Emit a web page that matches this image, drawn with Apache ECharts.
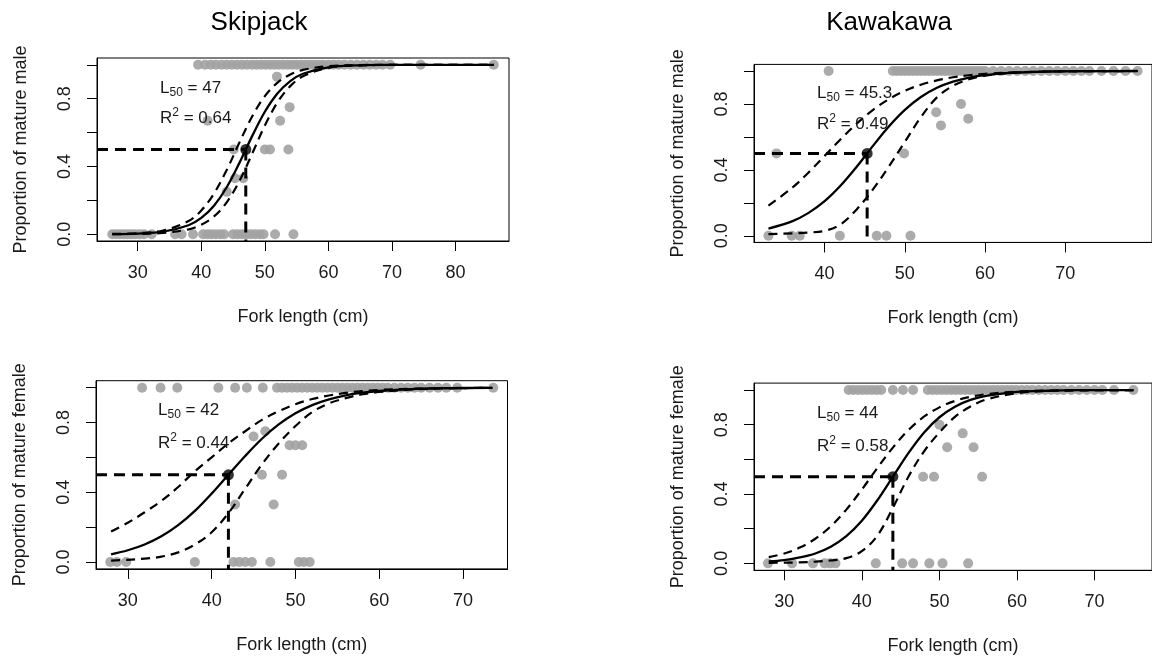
<!DOCTYPE html>
<html>
<head>
<meta charset="utf-8">
<style>
  html, body { margin: 0; padding: 0; background: #fff; }
  #chart { width: 1152px; height: 660px; }
</style>
<script src="https://cdn.jsdelivr.net/npm/echarts@6/dist/echarts.min.js"></script>
</head>
<body>
<div id="chart"></div>
<script>
// ---- Species headings and axis titles ----
const speciesTitles = ['Skipjack', 'Kawakawa'];
const xTitle = 'Fork length (cm)';
const yTitleMale = 'Proportion of mature male';
const yTitleFemale = 'Proportion of mature female';

// ---- Tick values ----
const yTicks = [0, 0.2, 0.4, 0.6, 0.8, 1.0];
const yTickLabels = [0, 0.4, 0.8];
const xTicksSkjMale = [30, 40, 50, 60, 70, 80];
const xTicksKawMale = [40, 50, 60, 70];
const xTicksSkjFemale = [30, 40, 50, 60, 70];
const xTicksKawFemale = [30, 40, 50, 60, 70];

// ---- Fitted L50 and R² per panel ----
const l50Values = [47, 45.3, 42, 44];
const r2Values = [0.64, 0.49, 0.44, 0.58];

// ---- Skipjack, male: observed proportions (fork length, proportion) ----
const skjMaleMature = [39.5, 40.6, 41.5, 42.3, 43.2, 44, 44.8, 45.6, 46.4, 47.2, 48, 48.7, 49.4, 50.1, 50.8,
  51.5, 52.2, 52.9, 53.6, 54.3, 55, 55.7, 56.4, 57.1, 57.8, 58.5, 59.2, 60, 60.8, 61.6, 62.5, 63.5, 64.5,
  65.5, 66.5, 67.5, 68.5, 69.7, 74.5, 86];
const skjMaleImmature = [26, 26.6, 27.2, 27.8, 28.4, 29, 29.6, 30.3, 31, 32.2, 35.9, 36.9, 38.7, 40.3, 41,
  41.6, 42.3, 43, 43.6, 45, 45.7, 46.4, 47.1, 47.8, 48.5, 49.2, 49.8, 51.6, 54.5];
const skjMalePartial = [[51.9, 0.93], [53.9, 0.75], [52.4, 0.67], [41, 0.67], [45.1, 0.5], [50, 0.5],
  [50.8, 0.5], [53.7, 0.5], [45.3, 0.33], [46.6, 0.33], [44, 0.25]];

// ---- Kawakawa, male ----
const kawMaleMature = [40.5, 48.5, 49, 49.5, 50, 50.5, 51, 51.5, 52, 52.5, 53, 53.5, 54, 54.5, 55, 55.5, 56,
  56.5, 57, 57.5, 58, 58.5, 59, 59.5, 60, 61, 62, 63, 64, 65, 66, 67, 68, 69, 70, 71, 72, 73, 74.5, 76,
  77.5, 79];
const kawMaleImmature = [33, 35.9, 36.9, 41.9, 46.5, 47.7, 50.7];
const kawMalePartial = [[34, 0.5], [49.9, 0.5], [53.9, 0.75], [54.5, 0.67], [57, 0.8], [57.9, 0.71]];

// ---- Skipjack, female ----
const skjFemaleMature = [31.7, 33.9, 35.9, 40.8, 42.8, 44.2, 46.1, 47.8, 48.4, 49, 49.6, 50.2, 50.8, 51.4, 52,
  52.6, 53.2, 53.8, 54.4, 55, 55.6, 56.2, 56.8, 57.4, 58, 58.6, 59.2, 59.8, 60.4, 61, 61.8, 62.6, 63.4,
  64.2, 65, 66, 67, 68, 69.3, 73.6];
const skjFemaleImmature = [27.9, 28.7, 29.8, 38, 42.6, 43.3, 44, 44.8, 47, 50.4, 51, 51.7];
const skjFemalePartial = [[45, 0.72], [46.4, 0.75], [49.3, 0.67], [50, 0.67], [50.8, 0.67], [46, 0.5],
  [48.4, 0.5], [42.8, 0.33], [47.4, 0.33]];

// ---- Kawakawa, female ----
const kawFemaleMature = [38.3, 38.9, 39.5, 40.1, 40.7, 41.3, 41.9, 42.5, 44, 45.3, 46.6, 48.5, 49.1, 49.7,
  50.3, 50.9, 51.5, 52.1, 52.7, 53.3, 53.9, 54.5, 55.1, 55.7, 56.3, 56.9, 57.5, 58.1, 58.7, 59.3, 59.9,
  60.6, 61.3, 62, 62.8, 63.6, 64.4, 65.2, 66, 67, 68, 69, 70, 71, 72.5, 75];
const kawFemaleImmature = [27.9, 31, 33.7, 35.2, 35.9, 36.6, 41.8, 45.2, 46.6, 48.7, 50.4, 53.7];
const kawFemalePartial = [[50, 0.8], [53, 0.75], [51, 0.67], [54.4, 0.67], [47.9, 0.5], [49.3, 0.5], [55.5, 0.5]];

// ---- Logistic fits with 95% bands, sampled along fork length ----
const skjMaleLen = [26, 30, 34, 38, 40, 42, 44, 46, 48, 50, 52, 54, 56, 60, 65, 70, 86];
const skjMaleFit = [0.001, 0.004, 0.015, 0.053, 0.096, 0.168, 0.277, 0.421, 0.579, 0.723, 0.832, 0.904, 0.947, 0.985, 0.997, 0.999, 1.0];
const skjMaleUpper = [0.002, 0.006, 0.022, 0.078, 0.140, 0.240, 0.379, 0.541, 0.695, 0.815, 0.895, 0.943, 0.970, 0.992, 0.998, 1.0, 1.0];
const skjMaleLower = [0.001, 0.002, 0.008, 0.029, 0.056, 0.105, 0.188, 0.314, 0.475, 0.641, 0.779, 0.874, 0.932, 0.982, 0.997, 0.999, 1.0];

const kawMaleLen = [33, 36, 38, 40, 42, 44, 46, 48, 50, 52, 54, 56, 58, 60, 64, 68, 72, 79];
const kawMaleFit = [0.044, 0.089, 0.139, 0.210, 0.305, 0.419, 0.544, 0.663, 0.764, 0.842, 0.898, 0.935, 0.960, 0.975, 0.991, 0.997, 0.999, 1.0];
const kawMaleUpper = [0.183, 0.293, 0.384, 0.485, 0.586, 0.681, 0.763, 0.829, 0.880, 0.917, 0.943, 0.962, 0.974, 0.983, 0.992, 0.997, 0.998, 1.0];
const kawMaleLower = [0.01, 0.015, 0.02, 0.03, 0.07, 0.16, 0.28, 0.42, 0.57, 0.72, 0.84, 0.91, 0.95, 0.972, 0.99, 0.997, 0.999, 1.0];

const skjFemaleLen = [28, 30, 32, 34, 36, 38, 40, 42, 44, 46, 48, 50, 52, 54, 56, 58, 60, 64, 68, 73.5];
const skjFemaleFit = [0.044, 0.067, 0.100, 0.147, 0.211, 0.293, 0.392, 0.5, 0.608, 0.707, 0.789, 0.853, 0.900, 0.933, 0.956, 0.971, 0.981, 0.992, 0.997, 0.999];
const skjFemaleUpper = [0.175, 0.225, 0.285, 0.35, 0.43, 0.52, 0.60, 0.68, 0.75, 0.815, 0.865, 0.905, 0.935, 0.955, 0.97, 0.98, 0.987, 0.994, 0.997, 0.999];
const skjFemaleLower = [0.008, 0.012, 0.019, 0.03, 0.055, 0.10, 0.17, 0.28, 0.42, 0.56, 0.68, 0.78, 0.86, 0.91, 0.94, 0.962, 0.975, 0.99, 0.996, 0.999];

const kawFemaleLen = [28, 30, 32, 34, 36, 38, 40, 42, 44, 46, 48, 50, 52, 54, 56, 60, 64, 68, 75];
const kawFemaleFit = [0.011, 0.019, 0.034, 0.057, 0.096, 0.157, 0.246, 0.364, 0.5, 0.636, 0.754, 0.843, 0.904, 0.943, 0.966, 0.989, 0.996, 0.999, 1.0];
const kawFemaleUpper = [0.036, 0.057, 0.091, 0.142, 0.214, 0.310, 0.426, 0.550, 0.668, 0.769, 0.846, 0.900, 0.937, 0.961, 0.976, 0.991, 0.997, 0.999, 1.0];
const kawFemaleLower = [0.003, 0.004, 0.006, 0.01, 0.017, 0.03, 0.07, 0.16, 0.32, 0.50, 0.645, 0.755, 0.845, 0.905, 0.945, 0.982, 0.994, 0.998, 1.0];

// ---- Panel layout ----
const FONT = '"Liberation Sans", Arial, Helvetica, sans-serif';
const INK = '#1a1a1a';
const DOT = '#a2a2a2';

const panels = [
  { grid: { left: 97, top: 58, width: 412, height: 183 }, xMin: 23.6, xMax: 88.4, xTicks: xTicksSkjMale,
    yName: yTitleMale, mature: skjMaleMature, immature: skjMaleImmature, partial: skjMalePartial,
    len: skjMaleLen, fit: skjMaleFit, upper: skjMaleUpper, lower: skjMaleLower, text: [160, 88, 118] },
  { grid: { left: 754, top: 64.4, width: 414, height: 178 }, xMin: 31.2, xMax: 80.8, xTicks: xTicksKawMale,
    yName: yTitleMale, mature: kawMaleMature, immature: kawMaleImmature, partial: kawMalePartial,
    len: kawMaleLen, fit: kawMaleFit, upper: kawMaleUpper, lower: kawMaleLower, text: [817, 93, 124] },
  { grid: { left: 96, top: 380.7, width: 411.5, height: 188.2 }, xMin: 26.2, xMax: 75.3, xTicks: xTicksSkjFemale,
    yName: yTitleFemale, mature: skjFemaleMature, immature: skjFemaleImmature, partial: skjFemalePartial,
    len: skjFemaleLen, fit: skjFemaleFit, upper: skjFemaleUpper, lower: skjFemaleLower, text: [158, 410, 443] },
  { grid: { left: 754, top: 383.1, width: 411.5, height: 187.2 }, xMin: 26.1, xMax: 77.4, xTicks: xTicksKawFemale,
    yName: yTitleFemale, mature: kawFemaleMature, immature: kawFemaleImmature, partial: kawFemalePartial,
    len: kawFemaleLen, fit: kawFemaleFit, upper: kawFemaleUpper, lower: kawFemaleLower, text: [817, 413, 446] }
];

const Y_MIN = -0.04, Y_MAX = 1.04;
const zip = (xs, ys) => xs.map((x, i) => [x, ys[i]]);

const grids = [], xAxes = [], yAxes = [], series = [], graphics = [];

panels.forEach((p, i) => {
  grids.push(Object.assign({ show: true, borderColor: '#000', borderWidth: 1, backgroundColor: 'transparent' }, p.grid));

  xAxes.push({
    gridIndex: i, type: 'value', min: p.xMin, max: p.xMax,
    name: xTitle, nameLocation: 'middle', nameGap: 67,
    nameTextStyle: { fontFamily: FONT, fontSize: 18, color: INK },
    axisLine: { show: true, onZero: false, lineStyle: { color: '#000', width: 1 } },
    axisTick: { show: true, inside: false, length: 10, customValues: p.xTicks, lineStyle: { color: '#000', width: 1 } },
    axisLabel: { customValues: p.xTicks, margin: 23, fontFamily: FONT, fontSize: 18, color: INK },
    splitLine: { show: false }
  });

  yAxes.push({
    gridIndex: i, type: 'value', min: Y_MIN, max: Y_MAX,
    name: p.yName, nameLocation: 'middle', nameGap: 67,
    nameTextStyle: { fontFamily: FONT, fontSize: 18, color: INK },
    axisLine: { show: true, onZero: false, lineStyle: { color: '#000', width: 1 } },
    axisTick: { show: true, inside: false, length: 10, customValues: yTicks, lineStyle: { color: '#000', width: 1 } },
    axisLabel: { customValues: yTickLabels, rotate: 90, margin: 23, fontFamily: FONT, fontSize: 18, color: INK,
      formatter: v => Number(v).toFixed(1) },
    splitLine: { show: false }
  });

  const obs = p.mature.map(x => [x, 1]).concat(p.immature.map(x => [x, 0]), p.partial);
  series.push({
    type: 'scatter', xAxisIndex: i, yAxisIndex: i, data: obs, symbol: 'circle', symbolSize: 10,
    itemStyle: { color: DOT, opacity: 0.9 }, silent: true, z: 1
  });

  const band = { color: '#000', width: 2.2, type: [9, 6] };
  [p.upper, p.lower].forEach(vals => series.push({
    type: 'line', xAxisIndex: i, yAxisIndex: i, data: zip(p.len, vals), smooth: 0.35,
    showSymbol: false, lineStyle: band, silent: true, z: 3
  }));
  series.push({
    type: 'line', xAxisIndex: i, yAxisIndex: i, data: zip(p.len, p.fit), smooth: 0.35,
    showSymbol: false, lineStyle: { color: '#000', width: 2.3 }, silent: true, z: 4
  });

  const l50 = l50Values[i];
  const guide = { color: '#000', width: 3, type: [11, 7] };
  series.push({
    type: 'line', xAxisIndex: i, yAxisIndex: i, data: [[p.xMin, 0.5], [l50, 0.5]],
    showSymbol: false, lineStyle: guide, silent: true, z: 5
  });
  series.push({
    type: 'line', xAxisIndex: i, yAxisIndex: i, data: [[l50, 0.5], [l50, Y_MIN]],
    showSymbol: false, lineStyle: guide, silent: true, z: 5
  });
  series.push({
    type: 'scatter', xAxisIndex: i, yAxisIndex: i, data: [[l50, 0.5]], symbol: 'circle', symbolSize: 11,
    itemStyle: { color: '#000' }, silent: true, z: 6
  });

  const rich = {
    n: { fontFamily: FONT, fontSize: 17, lineHeight: 22, fill: INK },
    s: { fontFamily: FONT, fontSize: 12, lineHeight: 12, verticalAlign: 'bottom', fill: INK },
    p: { fontFamily: FONT, fontSize: 12, lineHeight: 12, verticalAlign: 'top', fill: INK }
  };
  graphics.push({
    type: 'text', x: p.text[0], y: p.text[1], z: 10,
    style: { text: `{n|L}{s|50}{n| = ${l50}}`, rich, verticalAlign: 'middle', align: 'left' }
  });
  graphics.push({
    type: 'text', x: p.text[0], y: p.text[2], z: 10,
    style: { text: `{n|R}{p|2}{n| = ${r2Values[i].toFixed(2)}}`, rich, verticalAlign: 'middle', align: 'left' }
  });
});

// species headings above each column
[[259, 23], [889, 23]].forEach((pos, k) => graphics.push({
  type: 'text', x: pos[0], y: pos[1],
  style: { text: speciesTitles[k], fontFamily: FONT, fontSize: 26, fill: '#000', align: 'center', verticalAlign: 'middle' }
}));

const chart = echarts.init(document.getElementById('chart'), null, { renderer: 'canvas' });
chart.setOption({
  animation: false,
  backgroundColor: '#fff',
  grid: grids,
  xAxis: xAxes,
  yAxis: yAxes,
  series: series,
  graphic: graphics
});
</script>
</body>
</html>
